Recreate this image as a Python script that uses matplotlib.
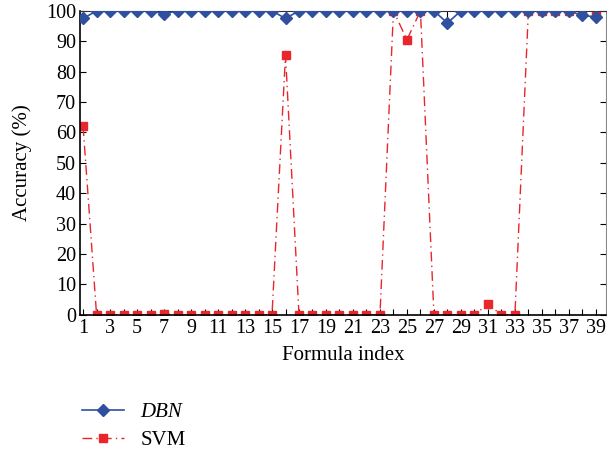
import matplotlib.pyplot as plt
import numpy as np

plt.rcParams['font.family'] = ['Liberation Serif', 'DejaVu Serif']

# Datos
formula_index = list(range(1, 40))
dbn = [97.5, 100, 100, 100, 100, 100, 99, 100, 100, 100,
       100, 100, 100, 100, 100, 97.5, 100, 100, 100, 100,
       100, 100, 100, 100, 100, 100, 100, 96, 100, 100,
       100, 100, 100, 100, 100, 100, 100, 98.5, 98]
svm = [62, 0, 0, 0, 0, 0, 0.3, 0, 0, 0,
       0, 0, 0, 0, 0, 85.5, 0, 0, 0, 0,
       0, 0, 0, 100, 90.5, 100, 0, 0, 0, 0,
       3.5, 0, 0, 100, 100, 100, 100, 100, 100]
x_labels = [str(i) if i % 2 == 1 else "" for i in formula_index]
y_ticks = list(range(0, 101, 10))

BLUE = "#2f4f9f"
RED = "#e8262b"

fig = plt.figure(figsize=(6.07, 4.53), dpi=100)
ax = fig.add_axes([0.132, 0.305, 0.867, 0.671])

ax.plot(formula_index, svm, color=RED, linestyle=(0, (7, 3, 1, 3)), linewidth=1.0,
        marker="s", markersize=6, label="SVM", zorder=2)
ax.plot(formula_index, dbn, color=BLUE, linestyle="-", linewidth=1.2,
        marker="D", markersize=6, label="DBN", zorder=3)

ax.set_xlim(0.78, 39.78)
ax.set_ylim(0, 100)
ax.set_xticks(formula_index)
ax.set_xticklabels(x_labels)
ax.set_yticks(y_ticks)
ax.tick_params(direction="in", top=True, right=True, labelsize=14.5, length=4, pad=3)
ax.spines["right"].set_color("#888888")
ax.spines["top"].set_color("#333333")
for s in ["left", "bottom"]:
    ax.spines[s].set_linewidth(1.2)

ax.set_xlabel("Formula index", fontsize=15, labelpad=6)
ax.set_ylabel("Accuracy (%)", fontsize=15, labelpad=10)

handles, labels = ax.get_legend_handles_labels()
leg = fig.legend([handles[1], handles[0]], ["DBN", "SVM"], loc="upper left",
                 bbox_to_anchor=(0.118, 0.134), frameon=False, fontsize=15,
                 handlelength=2.0, handletextpad=0.8, labelspacing=0.4, borderpad=0)
leg.get_texts()[0].set_style("italic")

fig.savefig("out.png", dpi=100)
